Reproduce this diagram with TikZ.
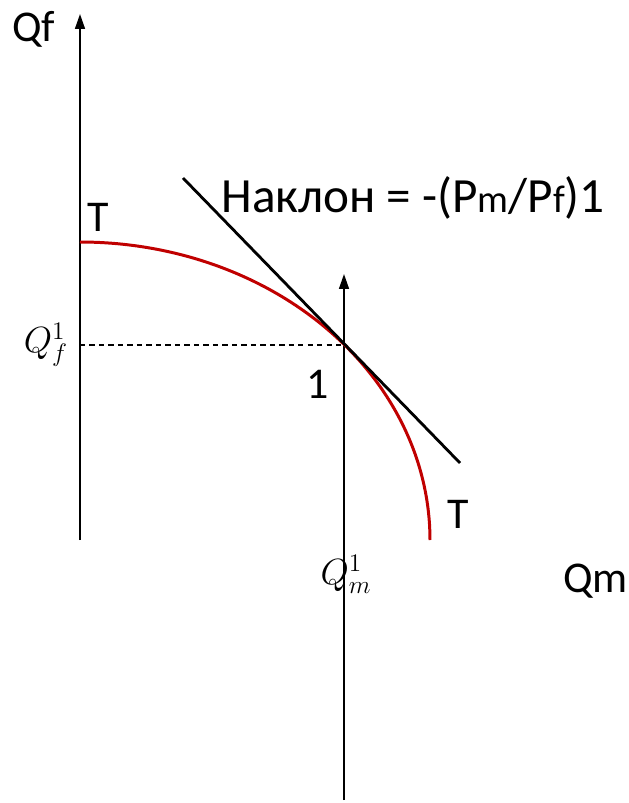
\documentclass[tikz,border=0pt]{standalone}
\usepackage{fontspec}
\setmainfont{Carlito}
\usepackage{tikz}
\usepackage{xcolor}
\usetikzlibrary{arrows.meta}
\definecolor{myred}{RGB}{192,0,0}
\tikzset{
    axis/.style={
        line width=1.1pt,
        black,
        -{Triangle[length=8.5pt,width=5.6pt]}
    },
    curve/.style={line width=1.7pt,myred},
    tangent/.style={line width=1.6pt,black},
    guide/.style={line width=0.6pt,dash pattern=on 3pt off 2.4pt},
    lbl/.style={inner sep=0pt,font=\fontsize{25}{30}\selectfont},
    mlbl/.style={inner sep=0pt,font=\fontsize{20}{24}\selectfont}
}

\begin{document}
\begin{tikzpicture}[x=0.02cm,y=-0.02cm]
\useasboundingbox (0,0) rectangle (628,803);

% Axes
\coordinate (O) at (80,540);
\coordinate (ftop) at (80,14);
\coordinate (P) at (344,345);
\coordinate (mbot) at (344,800);
\coordinate (mtop) at (344,274);
\draw[axis] (O) -- (ftop);
\draw[axis] (mbot) -- (mtop);

% Guide
\coordinate (fP) at (O |- P);
\draw[guide] (fP) -- (P);

% Transformation curve
\draw[curve] plot[domain=90:0,samples=60,smooth] ({80+350*cos(\x)},{540-298*sin(\x)});

% Tangent
\coordinate (ta) at (183,178);
\coordinate (tb) at (460,463);
\draw[tangent] (ta) -- (tb);

% Labels
\node[lbl,anchor=base west] (qf) at (12,42) {Qf};
\node[lbl,anchor=base west] (qm) at (563,592) {Qm};
\node[lbl,anchor=base west] (t1) at (87,232) {T};
\node[lbl,anchor=base west] (t2) at (447,528) {T};
\node[lbl,anchor=base west] (one) at (306,398) {1};
\node[inner sep=0pt,anchor=base west,font=\fontsize{28}{33}\selectfont] (slope) at (221,213)
    {Наклон = -(P{\fontsize{22}{26}\selectfont m}/P{\fontsize{22}{26}\selectfont f})1};
\node[mlbl] (qf1) at (46,345) {$Q_f^1$};
\node[mlbl] (qm1) at (346,574) {$Q_m^1$};

\end{tikzpicture}
\end{document}
